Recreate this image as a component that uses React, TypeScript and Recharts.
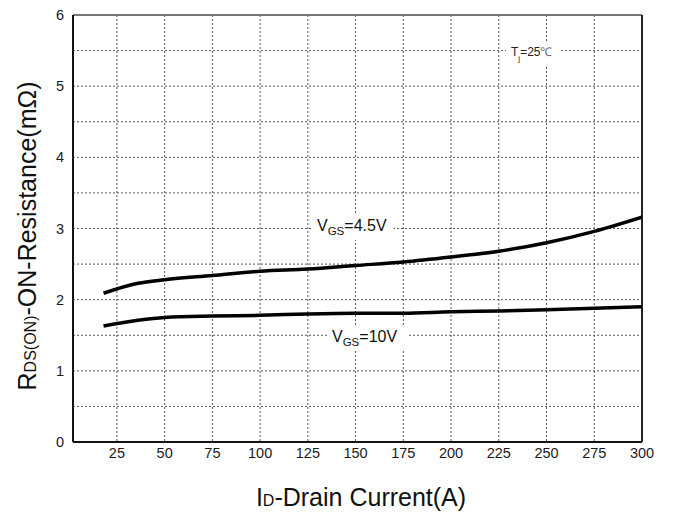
import { CartesianGrid, Line, LineChart, ReferenceLine, XAxis, YAxis } from "recharts";

// Drain current (A) sample points
const currentA = [18, 36, 50, 75, 100, 125, 150, 175, 200, 225, 250, 275, 300];
// RDS(ON) in mΩ at VGS = 4.5V
const rdsVgs45 = [2.09, 2.23, 2.28, 2.34, 2.4, 2.43, 2.48, 2.53, 2.6, 2.68, 2.8, 2.96, 3.16];
// RDS(ON) in mΩ at VGS = 10V
const rdsVgs10 = [1.63, 1.71, 1.75, 1.77, 1.78, 1.8, 1.81, 1.81, 1.83, 1.84, 1.86, 1.88, 1.9];

const xTicks = [25, 50, 75, 100, 125, 150, 175, 200, 225, 250, 275, 300];
const yTicks = [0, 0.5, 1, 1.5, 2, 2.5, 3, 3.5, 4, 4.5, 5, 5.5, 6];

const FONT = '"Liberation Sans", Arial, sans-serif';

const data45 = currentA.map((x, i) => ({ x, y: rdsVgs45[i] }));
const data10 = currentA.map((x, i) => ({ x, y: rdsVgs10[i] }));

export default function App() {
  return (
    <div style={{ position: "absolute", left: 0, top: 0, width: 675, height: 515, background: "#fff", fontFamily: FONT }}>
      <LineChart width={675} height={515} margin={{ top: 15, right: 33, left: 13, bottom: 0 }}>
        <CartesianGrid stroke="#555" strokeDasharray="2 2" strokeWidth={1} />
        <XAxis
          dataKey="x"
          type="number"
          domain={[2, 300]}
          ticks={xTicks}
          allowDataOverflow
          height={73}
          tickLine={false}
          tickMargin={0}
          axisLine={{ stroke: "#111", strokeWidth: 2 }}
          tick={{ fontSize: 14.5, fill: "#1a1a1a", fontFamily: FONT }}
        />
        <YAxis
          dataKey="y"
          type="number"
          domain={[0, 6]}
          ticks={yTicks}
          width={60}
          tickLine={false}
          tickMargin={3}
          interval={0}
          axisLine={{ stroke: "#111", strokeWidth: 2 }}
          tickFormatter={(v: number) => (Number.isInteger(v) ? String(v) : "")}
          tick={{ fontSize: 14.5, fill: "#1a1a1a", fontFamily: FONT }}
        />
        <ReferenceLine y={6} stroke="#777" strokeWidth={2} />
        <ReferenceLine x={300} stroke="#222" strokeWidth={2} />
        <Line data={data45} dataKey="y" type="monotone" stroke="#000" strokeWidth={3.5} dot={false} isAnimationActive={false} />
        <Line data={data10} dataKey="y" type="monotone" stroke="#000" strokeWidth={3.5} dot={false} isAnimationActive={false} />
      </LineChart>
      <svg
        width={675}
        height={515}
        style={{ position: "absolute", left: 0, top: 0, pointerEvents: "none" }}
        fontFamily={FONT}
      >
        <rect x={312} y={214} width={82} height={26} fill="#fff" />
        <rect x={328} y={325} width={80} height={25} fill="#fff" />
        <rect x={506} y={42} width={54} height={24} fill="#fff" />
        <text x={317} y={231} fontSize={16} fill="#111">
          V<tspan fontSize={11.5} dy={4}>GS</tspan>
          <tspan dy={-4}>=4.5V</tspan>
        </text>
        <text x={332} y={342} fontSize={16} fill="#111">
          V<tspan fontSize={11.5} dy={4}>GS</tspan>
          <tspan dy={-4}>=10V</tspan>
        </text>
        <text x={511} y={56} fontSize={12} fill="#222">
          T<tspan fontSize={8} dy={5}>j</tspan>
          <tspan dy={-5}>=25</tspan>
          <tspan fill="#667">℃</tspan>
        </text>
        <text x={361} y={506} fontSize={25} fill="#111" textAnchor="middle">
          I<tspan fontSize={16}>D</tspan>-Drain Current(A)
        </text>
        <text x={36} y={236} fontSize={25} fill="#111" textAnchor="middle" transform="rotate(-90 36 236)">
          R<tspan fontSize={16}>DS(ON)</tspan>-ON-Resistance(mΩ)
        </text>
      </svg>
    </div>
  );
}
